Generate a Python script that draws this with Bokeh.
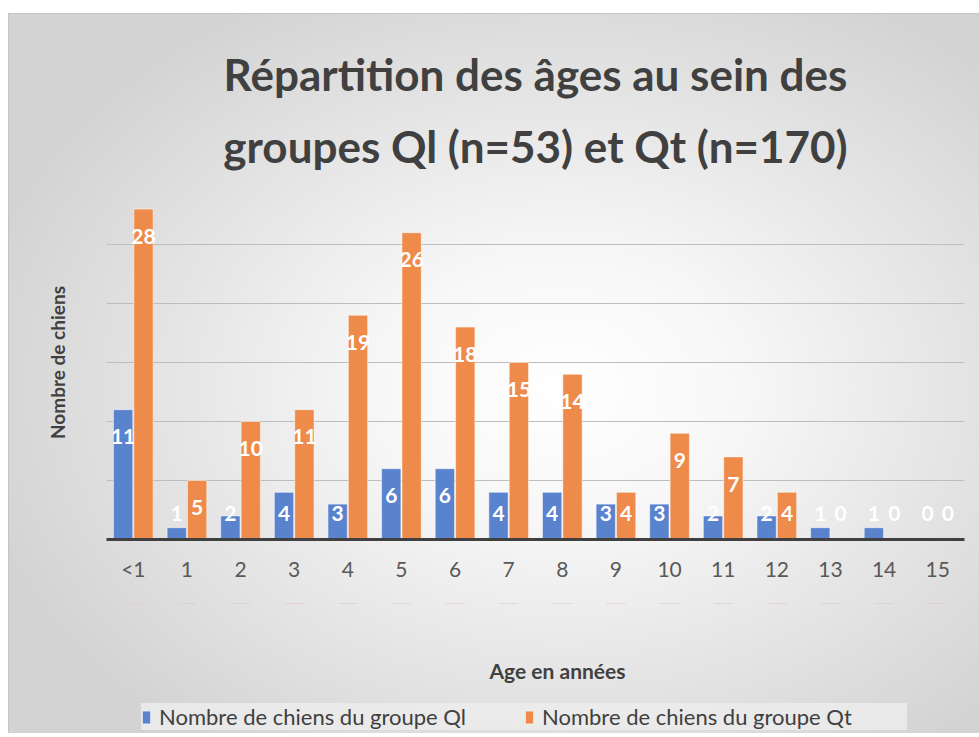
from bokeh.plotting import figure
from bokeh.layouts import column
from bokeh.models import (ColumnDataSource, Title, Legend, LegendItem, FactorRange,
                          Range1d, SingleIntervalTicker, Label)
from bokeh.transform import dodge
from bokeh.core.properties import value
from bokeh.embed import file_html
from bokeh.resources import INLINE

ages = ["<1", "1", "2", "3", "4", "5", "6", "7", "8", "9", "10", "11", "12", "13", "14", "15"]
ql = [11, 1, 2, 4, 3, 6, 6, 4, 4, 3, 3, 2, 2, 1, 1, 0]
qt = [28, 5, 10, 11, 19, 26, 18, 15, 14, 4, 9, 7, 4, 0, 0, 0]

title_lines = ["Répartition des âges au sein des", "groupes Ql (n=53) et Qt (n=170)"]
series_names = ["Nombre de chiens du groupe Ql", "Nombre de chiens du groupe Qt"]
x_title = "Age en années"
y_title = "Nombre de chiens"
FONT = "Lato"

BLUE = "#5a83cd"
ORANGE = "#ee8b4b"

src = ColumnDataSource(dict(
    age=ages, ql=ql, qt=qt,
    ql_txt=[str(v) for v in ql], qt_txt=[str(v) for v in qt],
    ql_ly=[max(v - 2.3, 2.2) for v in ql],
    qt_ly=[max(v - 2.3, 2.2) for v in qt],
))

p = figure(x_range=FactorRange(factors=ages), y_range=Range1d(0, 30),
           frame_width=858, frame_height=354, output_backend="svg", toolbar_location=None,
           min_border_left=97, min_border_right=16, min_border_top=171, min_border_bottom=64,
           title=title_lines[0])
p.background_fill_color = None
p.border_fill_color = None
p.outline_line_color = None

p.vbar(x=dodge("age", -0.19, range=p.x_range), top="ql", width=0.36, source=src,
       fill_color=BLUE, line_color="#ffffff", line_alpha=0.5, line_width=1)
p.vbar(x=dodge("age", 0.19, range=p.x_range), top="qt", width=0.36, source=src,
       fill_color=ORANGE, line_color="#ffffff", line_alpha=0.5, line_width=1)

p.text(x=dodge("age", -0.19, range=p.x_range), y="ql_ly", text="ql_txt", source=src,
       text_font=value(FONT), text_font_style="bold", text_font_size="21px",
       text_color="white", text_align="center", text_baseline="middle")
p.text(x=dodge("age", 0.19, range=p.x_range), y="qt_ly", text="qt_txt", source=src,
       text_font=value(FONT), text_font_style="bold", text_font_size="21px",
       text_color="white", text_align="center", text_baseline="middle")

# axes
p.xaxis.axis_line_color = "#404040"
p.xaxis.axis_line_width = 3
p.xaxis.major_tick_line_color = None
p.xaxis.minor_tick_line_color = None
p.xaxis.major_label_text_font = FONT
p.xaxis.major_label_text_font_size = "21px"
p.xaxis.major_label_text_color = "#595959"
p.xaxis.major_label_standoff = 10

p.yaxis.ticker = SingleIntervalTicker(interval=5)
p.yaxis.axis_line_color = None
p.yaxis.major_tick_line_color = None
p.yaxis.minor_tick_line_color = None
p.yaxis.major_label_text_font_size = "0px"
p.yaxis.axis_label = y_title
p.yaxis.axis_label_text_font = FONT
p.yaxis.axis_label_text_font_style = "bold"
p.yaxis.axis_label_text_font_size = "19px"
p.yaxis.axis_label_text_color = "#404040"
p.yaxis.axis_label_standoff = 32

p.xgrid.grid_line_color = None
p.ygrid.grid_line_color = "#bdbdbd"
p.ygrid.grid_line_width = 1.2

# title (two lines): p.title is the upper line, the added Title sits nearer the plot
p.title.align = "center"
p.title.text_font = FONT
p.title.text_font_style = "bold"
p.title.text_font_size = "44px"
p.title.text_color = "#404040"
p.title.standoff = 10
p.add_layout(Title(text=title_lines[1], align="center", text_font=FONT, text_font_style="bold",
                   text_font_size="44px", text_color="#404040", standoff=27), "above")

# strip below the chart: x-axis title and legend
lf = figure(width=971, height=130, x_range=FactorRange(factors=ages), y_range=Range1d(-2, -1),
            output_backend="svg", toolbar_location=None, min_border=0)
lf.background_fill_color = None
lf.border_fill_color = None
lf.outline_line_color = None
lf.axis.visible = False
lf.grid.grid_line_color = None
# same series, drawn outside this strip's visible range: only their legend swatches show
k1 = lf.vbar(x="age", top="ql", width=0.36, source=src,
             fill_color=BLUE, line_color="#ffffff", line_alpha=0.5)
k2 = lf.vbar(x="age", top="qt", width=0.36, source=src,
             fill_color=ORANGE, line_color="#ffffff", line_alpha=0.5)

lf.add_layout(Label(x=451, y=63, x_units="screen", y_units="screen", text=x_title,
                    text_font=FONT, text_font_style="bold", text_font_size="21px",
                    text_color="#404040", text_align="center", text_baseline="middle"))

legend = Legend(items=[LegendItem(label=series_names[0], renderers=[k1]),
                       LegendItem(label=series_names[1], renderers=[k2])],
                orientation="horizontal", location=(35, 3),
                label_text_font=FONT, label_text_font_size="22px", label_text_color="#404040",
                glyph_width=10, glyph_height=16, label_standoff=8, spacing=0, label_width=365,
                padding=10, margin=0, background_fill_color="#ececec", background_fill_alpha=0.85,
                border_line_color=None)
lf.add_layout(legend)

page = column(p, lf, spacing=0,
              styles={"margin-top": "13px", "margin-left": "8px",
                      "background": "radial-gradient(ellipse 62% 62% at 57% 52%, #ffffff 0%, #f7f7f7 30%, #d3d3d3 100%)",
                      "border-top": "1px solid #c4c4c4", "border-left": "1px solid #c4c4c4"})

open("out.html", "w").write(file_html(page, INLINE))
